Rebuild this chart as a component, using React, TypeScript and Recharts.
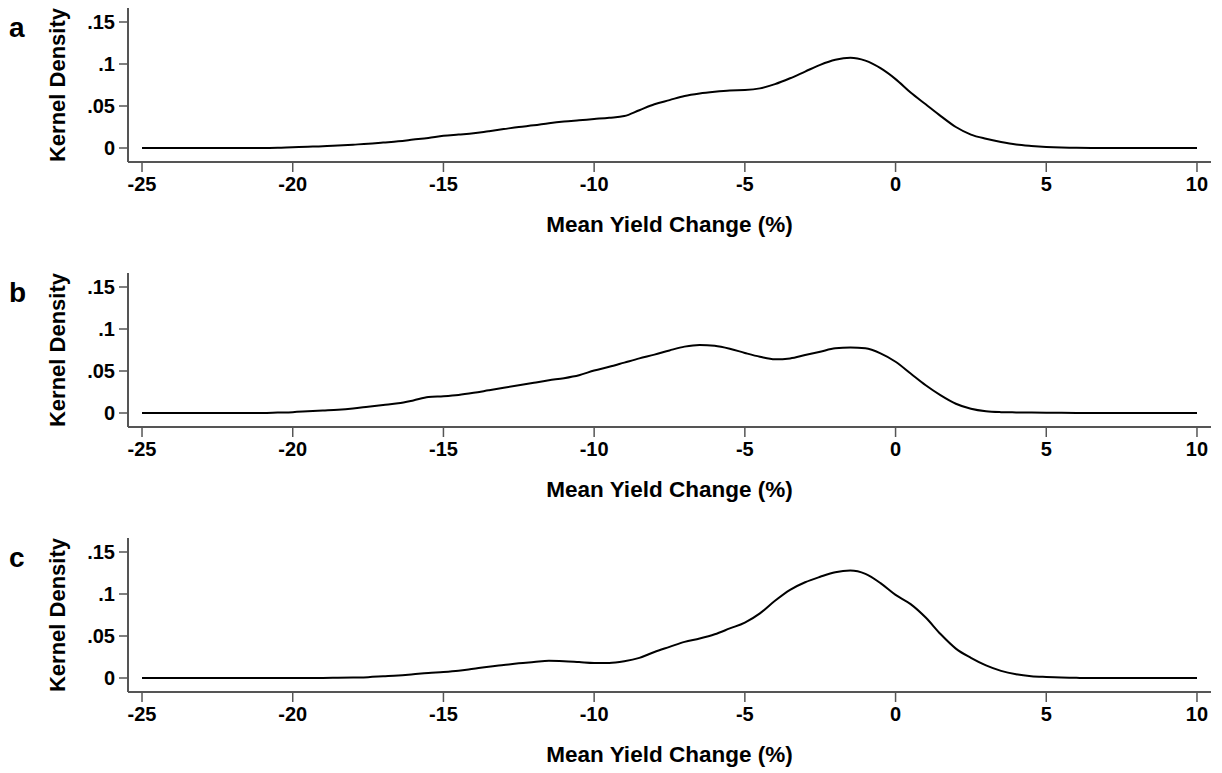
import { LineChart, Line, XAxis, YAxis, Label } from 'recharts';

const FONT = "'Liberation Sans', Arial, sans-serif";

// x grid of the kernel density estimates (Mean Yield Change, %)
const yieldChange = [
  -25, -24.5, -24, -23.5, -23, -22.5, -22, -21.5, -21, -20.5,
  -20, -19.5, -19, -18.5, -18, -17.5, -17, -16.5, -16, -15.5,
  -15, -14.5, -14, -13.5, -13, -12.5, -12, -11.5, -11, -10.5,
  -10, -9.5, -9, -8.5, -8, -7.5, -7, -6.5, -6, -5.5,
  -5, -4.5, -4, -3.5, -3, -2.5, -2, -1.5, -1, -0.5,
  0, 0.5, 1, 1.5, 2, 2.5, 3, 3.5, 4, 4.5,
  5, 5.5, 6, 6.5, 7, 7.5, 8, 8.5, 9, 9.5, 10,
];

const densityA = [
  0, 0, 0, 0, 0, 0, 0, 0, 0, 0.0003,
  0.001, 0.0015, 0.002, 0.003, 0.004, 0.005, 0.0065, 0.008, 0.01, 0.012,
  0.0145, 0.016, 0.0175, 0.02, 0.0225, 0.025, 0.027, 0.0295, 0.0315, 0.033,
  0.0345, 0.036, 0.038, 0.045, 0.052, 0.057, 0.062, 0.065, 0.067, 0.0685,
  0.069, 0.071, 0.076, 0.083, 0.091, 0.099, 0.105, 0.1075, 0.104, 0.095,
  0.082, 0.066, 0.052, 0.038, 0.025, 0.016, 0.011, 0.0072, 0.0042, 0.0025,
  0.0013, 0.0006, 0.0003, 0.0001, 0, 0, 0, 0, 0, 0, 0,
];

const densityB = [
  0, 0, 0, 0, 0, 0, 0, 0, 0, 0.0005,
  0.001, 0.002, 0.003, 0.004, 0.0055, 0.0075, 0.0095, 0.0115, 0.015, 0.019,
  0.02, 0.0215, 0.024, 0.027, 0.03, 0.033, 0.036, 0.039, 0.0415, 0.045,
  0.0505, 0.055, 0.06, 0.065, 0.0695, 0.0745, 0.079, 0.081, 0.08, 0.0765,
  0.0715, 0.067, 0.064, 0.065, 0.069, 0.073, 0.077, 0.078, 0.077, 0.071,
  0.061, 0.047, 0.033, 0.021, 0.011, 0.005, 0.002, 0.001, 0.0007, 0.0005,
  0.0003, 0.0002, 0.0001, 0, 0, 0, 0, 0, 0, 0, 0,
];

const densityC = [
  0, 0, 0, 0, 0, 0, 0, 0, 0, 0,
  0, 0, 0, 0.0003, 0.0006, 0.001, 0.002, 0.003, 0.0045, 0.006,
  0.007, 0.0085, 0.011, 0.0135, 0.0155, 0.0175, 0.019, 0.0205, 0.02, 0.019,
  0.018, 0.018, 0.02, 0.024, 0.031, 0.037, 0.043, 0.047, 0.052, 0.059,
  0.066, 0.077, 0.092, 0.105, 0.114, 0.1205, 0.126, 0.128, 0.124, 0.113,
  0.099, 0.088, 0.072, 0.052, 0.035, 0.024, 0.015, 0.0085, 0.0045, 0.0022,
  0.0012, 0.0005, 0.0002, 0, 0, 0, 0, 0, 0, 0, 0,
];

const xTicks = [-25, -20, -15, -10, -5, 0, 5, 10];
const yTicks = [0, 0.05, 0.1, 0.15];

const panels = [
  { letter: 'a', values: densityA },
  { letter: 'b', values: densityB },
  { letter: 'c', values: densityC },
];

const fmtY = (v: number) => (v === 0 ? '0' : String(v).replace(/^0\./, '.'));

const axisColor = '#555';

function Panel({ letter, values }: { letter: string; values: number[] }) {
  const rows = yieldChange.map((x, i) => ({ x, density: values[i] }));
  return (
    <LineChart width={1222} height={265} data={rows} margin={{ top: 8, right: 11, bottom: 0, left: 0 }}>
      <XAxis
        type="number"
        dataKey="x"
        domain={[-25.465, 10.465]}
        ticks={xTicks}
        allowDataOverflow
        height={103}
        tickSize={10}
        tickMargin={5}
        axisLine={{ stroke: axisColor, strokeWidth: 2 }}
        tickLine={{ stroke: axisColor, strokeWidth: 1.5 }}
        tick={{ fill: '#000', fontSize: 20, fontWeight: 700, fontFamily: FONT }}
        label={{
          value: 'Mean Yield Change (%)',
          position: 'insideBottom',
          offset: 33,
          fill: '#000',
          fontSize: 22.5,
          fontWeight: 700,
          fontFamily: FONT,
        }}
      />
      <YAxis
        type="number"
        domain={[-0.016667, 0.166667]}
        ticks={yTicks}
        allowDataOverflow
        width={128}
        tickSize={9}
        tickMargin={4}
        tickFormatter={fmtY}
        axisLine={{ stroke: axisColor, strokeWidth: 2 }}
        tickLine={{ stroke: axisColor, strokeWidth: 1.5 }}
        tick={{ fill: '#000', fontSize: 20, fontWeight: 700, fontFamily: FONT }}
      >
        <Label
          content={() => (
            <g fontFamily={FONT} fontWeight={700} fill="#000">
              <text x={9} y={37} fontSize={28}>{letter}</text>
              <text x={65} y={85} fontSize={22} textAnchor="middle" transform="rotate(-90 65 85)">
                Kernel Density
              </text>
            </g>
          )}
        />
      </YAxis>
      <Line
        type="monotone"
        dataKey="density"
        stroke="#000"
        strokeWidth={2}
        dot={false}
        activeDot={false}
        isAnimationActive={false}
      />
    </LineChart>
  );
}

export default function App() {
  return (
    <div
      style={{
        position: 'absolute',
        left: 0,
        top: 0,
        width: 1222,
        height: 773,
        overflow: 'hidden',
        background: '#fff',
      }}
    >
      {panels.map((p) => (
        <Panel key={p.letter} letter={p.letter} values={p.values} />
      ))}
    </div>
  );
}
